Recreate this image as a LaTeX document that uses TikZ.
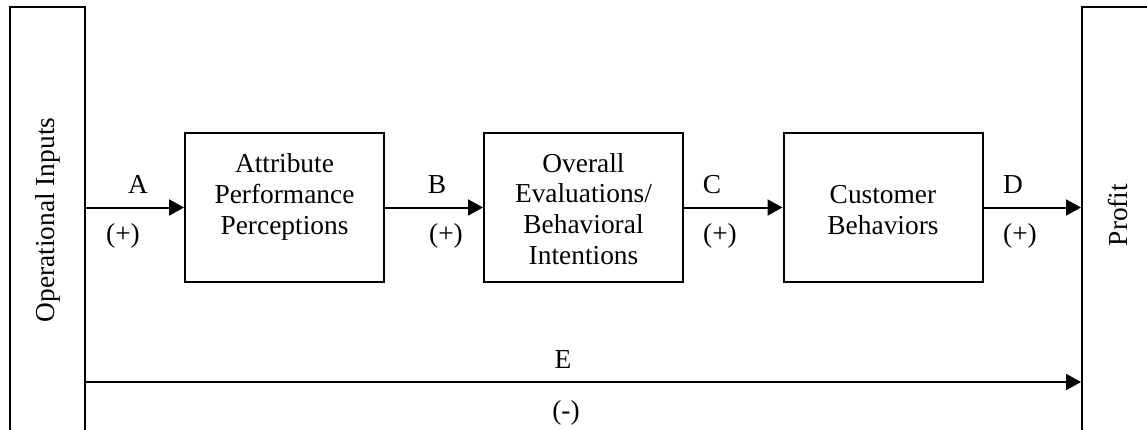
\documentclass[tikz,border=0pt]{standalone}
\usepackage{fontspec}
\setmainfont{Liberation Serif}
\usetikzlibrary{arrows.meta}
\tikzset{
  frame/.style={draw, line width=2bp, rectangle, inner sep=0pt},
  stage/.style={frame, minimum width=199bp, minimum height=149bp},
  txt/.style={align=center, inner sep=0pt, font=\fontsize{27.5}{31}\selectfont},
  arr/.style={line width=2bp, -{Triangle[length=15bp, width=16bp]}},
  lbl/.style={font=\fontsize{27.5}{31}\selectfont, inner sep=0pt, anchor=base},
}
\begin{document}
\begin{tikzpicture}[x=1bp, y=-1bp]
  \useasboundingbox (0,0) rectangle (1147,429);
  % side bars, running past the page edges
  \node[frame, minimum width=75bp, minimum height=440bp] (inp) at (47.5,227) {};
  \node[frame, minimum width=90bp, minimum height=440bp] (prof) at (1127,227) {};
  \node[txt, rotate=90] (inptxt) at (48,220) {Operational Inputs};
  \node[txt, rotate=90] (proftxt) at (1118,215) {Profit};
  % stages of the chain
  \node[stage] (s1) at (284.5,207.5) {};
  \node[stage] (s2) at (583.5,207.5) {};
  \node[stage] (s3) at (883,207.5) {};
  \node[txt] (s1t) at (284.5,197) {Attribute\\Performance\\Perceptions};
  \node[txt] (s2t) at (583.5,209) {Overall\\Evaluations/\\Behavioral\\Intentions};
  \node[txt] (s3t) at (883,210) {Customer\\Behaviors};
  % links
  \draw[arr] (s1.west -| inp.east) -- (s1.west);
  \draw[arr] (s1.east) -- (s2.west);
  \draw[arr] (s2.east) -- (s3.west);
  \draw[arr] (s3.east) -- (s3.east -| prof.west);
  \coordinate (e0) at (85,382);
  \draw[arr] (e0) -- (e0 -| prof.west);
  % link labels
  \node[lbl] (la) at (138,193) {A};
  \node[lbl] (lap) at (123,242) {(+)};
  \node[lbl] (lb) at (437,193) {B};
  \node[lbl] (lbp) at (446,242) {(+)};
  \node[lbl] (lc) at (712,193) {C};
  \node[lbl] (lcp) at (720,242) {(+)};
  \node[lbl] (ld) at (1013,193) {D};
  \node[lbl] (ldp) at (1020,242) {(+)};
  \node[lbl] (le) at (563,368) {E};
  \node[lbl] (lem) at (566,419) {(-)};
\end{tikzpicture}
\end{document}
